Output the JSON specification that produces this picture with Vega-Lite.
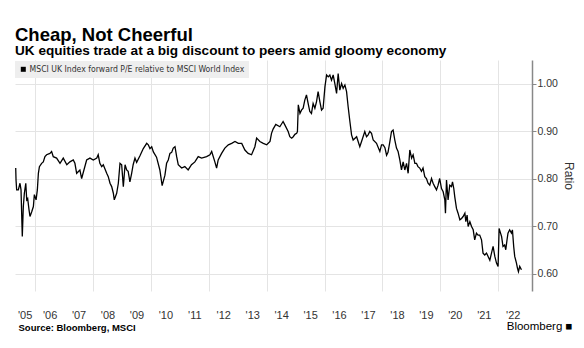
{
  "$schema": "https://vega.github.io/schema/vega-lite/v6.json",
  "width": 517,
  "height": 231,
  "autosize": "none",
  "padding": {"left": 15, "top": 60, "right": 52, "bottom": 57},
  "background": "white",
  "title": {
    "text": "Cheap, Not Cheerful",
    "subtitle": "UK equities trade at a big discount to peers amid gloomy economy",
    "anchor": "start",
    "frame": "group",
    "font": "Liberation Sans",
    "fontSize": 18.5,
    "fontWeight": "bold",
    "color": "#000000",
    "subtitleFont": "Liberation Sans",
    "subtitleFontSize": 13.6,
    "subtitleFontWeight": "bold",
    "subtitleColor": "#000000",
    "subtitlePadding": 0,
    "offset": 2
  },
  "config": {
    "view": {"stroke": null},
    "axis": {"labelFont": "Liberation Sans", "titleFont": "Liberation Sans"}
  },
  "data": {
    "values": [
      {"date": "2005-05-01", "ratio": 0.823}, {"date": "2005-05-05", "ratio": 0.798}, {"date": "2005-05-13", "ratio": 0.777},
      {"date": "2005-06-03", "ratio": 0.777}, {"date": "2005-06-24", "ratio": 0.791}, {"date": "2005-07-07", "ratio": 0.777},
      {"date": "2005-07-23", "ratio": 0.679}, {"date": "2005-08-05", "ratio": 0.742}, {"date": "2005-08-18", "ratio": 0.770},
      {"date": "2005-09-05", "ratio": 0.791}, {"date": "2005-09-17", "ratio": 0.756}, {"date": "2005-09-29", "ratio": 0.759},
      {"date": "2005-10-16", "ratio": 0.735}, {"date": "2005-10-28", "ratio": 0.721}, {"date": "2005-11-19", "ratio": 0.731},
      {"date": "2005-12-10", "ratio": 0.742}, {"date": "2005-12-22", "ratio": 0.767}, {"date": "2006-01-13", "ratio": 0.756},
      {"date": "2006-01-29", "ratio": 0.777}, {"date": "2006-02-11", "ratio": 0.812}, {"date": "2006-02-24", "ratio": 0.826},
      {"date": "2006-03-24", "ratio": 0.833}, {"date": "2006-04-14", "ratio": 0.836}, {"date": "2006-05-05", "ratio": 0.847},
      {"date": "2006-05-26", "ratio": 0.851}, {"date": "2006-07-07", "ratio": 0.854}, {"date": "2006-07-28", "ratio": 0.858},
      {"date": "2006-08-18", "ratio": 0.847}, {"date": "2006-09-29", "ratio": 0.844}, {"date": "2006-11-11", "ratio": 0.833},
      {"date": "2006-12-22", "ratio": 0.844}, {"date": "2007-02-05", "ratio": 0.830}, {"date": "2007-03-16", "ratio": 0.836},
      {"date": "2007-04-27", "ratio": 0.840}, {"date": "2007-05-18", "ratio": 0.833}, {"date": "2007-06-09", "ratio": 0.812},
      {"date": "2007-07-20", "ratio": 0.819}, {"date": "2007-08-11", "ratio": 0.801}, {"date": "2007-10-13", "ratio": 0.840},
      {"date": "2007-11-24", "ratio": 0.844}, {"date": "2008-01-05", "ratio": 0.840}, {"date": "2008-02-18", "ratio": 0.844},
      {"date": "2008-03-07", "ratio": 0.851}, {"date": "2008-03-28", "ratio": 0.833}, {"date": "2008-04-20", "ratio": 0.826},
      {"date": "2008-05-10", "ratio": 0.830}, {"date": "2008-06-22", "ratio": 0.812}, {"date": "2008-07-12", "ratio": 0.805},
      {"date": "2008-08-03", "ratio": 0.791}, {"date": "2008-08-24", "ratio": 0.784}, {"date": "2008-09-14", "ratio": 0.770},
      {"date": "2008-09-26", "ratio": 0.756}, {"date": "2008-10-26", "ratio": 0.770}, {"date": "2008-11-16", "ratio": 0.791},
      {"date": "2008-12-07", "ratio": 0.833}, {"date": "2008-12-28", "ratio": 0.830}, {"date": "2009-01-18", "ratio": 0.784},
      {"date": "2009-02-09", "ratio": 0.830}, {"date": "2009-03-01", "ratio": 0.819}, {"date": "2009-03-20", "ratio": 0.816},
      {"date": "2009-04-11", "ratio": 0.794}, {"date": "2009-05-03", "ratio": 0.812}, {"date": "2009-05-22", "ratio": 0.830},
      {"date": "2009-06-14", "ratio": 0.844}, {"date": "2009-07-05", "ratio": 0.835}, {"date": "2009-08-16", "ratio": 0.849},
      {"date": "2009-09-27", "ratio": 0.864}, {"date": "2009-11-09", "ratio": 0.875}, {"date": "2009-11-29", "ratio": 0.872},
      {"date": "2009-12-20", "ratio": 0.864}, {"date": "2010-01-11", "ratio": 0.868}, {"date": "2010-02-01", "ratio": 0.857},
      {"date": "2010-03-13", "ratio": 0.846}, {"date": "2010-04-24", "ratio": 0.819}, {"date": "2010-05-23", "ratio": 0.786},
      {"date": "2010-06-27", "ratio": 0.808}, {"date": "2010-07-18", "ratio": 0.833}, {"date": "2010-08-08", "ratio": 0.840},
      {"date": "2010-08-29", "ratio": 0.854}, {"date": "2010-09-20", "ratio": 0.856}, {"date": "2010-10-10", "ratio": 0.865},
      {"date": "2010-11-01", "ratio": 0.868}, {"date": "2010-11-22", "ratio": 0.847}, {"date": "2010-12-12", "ratio": 0.830},
      {"date": "2011-01-24", "ratio": 0.823}, {"date": "2011-03-05", "ratio": 0.826}, {"date": "2011-04-16", "ratio": 0.819},
      {"date": "2011-05-28", "ratio": 0.830}, {"date": "2011-07-10", "ratio": 0.836}, {"date": "2011-08-21", "ratio": 0.847},
      {"date": "2011-10-03", "ratio": 0.844}, {"date": "2011-12-05", "ratio": 0.847}, {"date": "2012-01-16", "ratio": 0.851},
      {"date": "2012-02-07", "ratio": 0.858}, {"date": "2012-03-18", "ratio": 0.836}, {"date": "2012-04-09", "ratio": 0.823},
      {"date": "2012-04-29", "ratio": 0.840}, {"date": "2012-06-11", "ratio": 0.854}, {"date": "2012-07-22", "ratio": 0.865},
      {"date": "2012-09-04", "ratio": 0.872}, {"date": "2012-10-16", "ratio": 0.875}, {"date": "2012-11-27", "ratio": 0.879},
      {"date": "2013-01-08", "ratio": 0.875}, {"date": "2013-02-20", "ratio": 0.875}, {"date": "2013-04-01", "ratio": 0.861},
      {"date": "2013-05-12", "ratio": 0.854}, {"date": "2013-06-24", "ratio": 0.851}, {"date": "2013-08-05", "ratio": 0.868},
      {"date": "2013-08-27", "ratio": 0.886}, {"date": "2013-10-07", "ratio": 0.879}, {"date": "2013-11-19", "ratio": 0.875},
      {"date": "2014-01-01", "ratio": 0.872}, {"date": "2014-02-12", "ratio": 0.879}, {"date": "2014-03-03", "ratio": 0.896},
      {"date": "2014-03-23", "ratio": 0.905}, {"date": "2014-04-26", "ratio": 0.915}, {"date": "2014-06-16", "ratio": 0.910},
      {"date": "2014-07-27", "ratio": 0.921}, {"date": "2014-08-18", "ratio": 0.914}, {"date": "2014-09-29", "ratio": 0.900},
      {"date": "2014-10-20", "ratio": 0.889}, {"date": "2014-11-12", "ratio": 0.886}, {"date": "2014-12-02", "ratio": 0.889},
      {"date": "2014-12-23", "ratio": 0.894}, {"date": "2015-01-14", "ratio": 0.896}, {"date": "2015-01-24", "ratio": 0.900},
      {"date": "2015-02-04", "ratio": 0.956}, {"date": "2015-02-25", "ratio": 0.938}, {"date": "2015-03-16", "ratio": 0.945},
      {"date": "2015-04-06", "ratio": 0.949}, {"date": "2015-04-27", "ratio": 0.966}, {"date": "2015-05-18", "ratio": 0.977},
      {"date": "2015-06-08", "ratio": 0.959}, {"date": "2015-06-29", "ratio": 0.942}, {"date": "2015-07-20", "ratio": 0.938},
      {"date": "2015-08-10", "ratio": 0.959}, {"date": "2015-09-01", "ratio": 0.949}, {"date": "2015-09-22", "ratio": 0.963},
      {"date": "2015-10-12", "ratio": 0.984}, {"date": "2015-11-03", "ratio": 0.963}, {"date": "2015-11-24", "ratio": 0.945},
      {"date": "2015-12-14", "ratio": 0.949}, {"date": "2016-01-06", "ratio": 0.994}, {"date": "2016-01-27", "ratio": 1.019},
      {"date": "2016-02-17", "ratio": 1.015}, {"date": "2016-03-08", "ratio": 1.019}, {"date": "2016-03-29", "ratio": 1.008},
      {"date": "2016-04-19", "ratio": 1.019}, {"date": "2016-05-10", "ratio": 1.001}, {"date": "2016-06-01", "ratio": 0.980},
      {"date": "2016-06-21", "ratio": 1.022}, {"date": "2016-07-12", "ratio": 0.987}, {"date": "2016-08-03", "ratio": 1.001},
      {"date": "2016-08-23", "ratio": 0.991}, {"date": "2016-09-14", "ratio": 0.998}, {"date": "2016-10-05", "ratio": 0.984},
      {"date": "2016-10-25", "ratio": 0.952}, {"date": "2016-11-16", "ratio": 0.921}, {"date": "2016-12-07", "ratio": 0.893},
      {"date": "2016-12-27", "ratio": 0.882}, {"date": "2017-02-09", "ratio": 0.889}, {"date": "2017-03-21", "ratio": 0.868},
      {"date": "2017-04-12", "ratio": 0.879}, {"date": "2017-05-23", "ratio": 0.900}, {"date": "2017-06-14", "ratio": 0.889},
      {"date": "2017-07-04", "ratio": 0.893}, {"date": "2017-07-25", "ratio": 0.900}, {"date": "2017-08-16", "ratio": 0.896},
      {"date": "2017-09-06", "ratio": 0.882}, {"date": "2017-10-18", "ratio": 0.875}, {"date": "2017-11-29", "ratio": 0.858},
      {"date": "2017-12-20", "ratio": 0.872}, {"date": "2018-01-10", "ratio": 0.872}, {"date": "2018-02-01", "ratio": 0.866},
      {"date": "2018-02-22", "ratio": 0.850}, {"date": "2018-03-12", "ratio": 0.856}, {"date": "2018-04-04", "ratio": 0.878},
      {"date": "2018-04-25", "ratio": 0.900}, {"date": "2018-05-15", "ratio": 0.903}, {"date": "2018-06-06", "ratio": 0.882},
      {"date": "2018-06-27", "ratio": 0.865}, {"date": "2018-07-17", "ratio": 0.858}, {"date": "2018-08-08", "ratio": 0.840},
      {"date": "2018-08-29", "ratio": 0.819}, {"date": "2018-09-19", "ratio": 0.836}, {"date": "2018-10-10", "ratio": 0.819},
      {"date": "2018-11-01", "ratio": 0.833}, {"date": "2018-11-21", "ratio": 0.812}, {"date": "2018-12-12", "ratio": 0.861},
      {"date": "2019-01-04", "ratio": 0.844}, {"date": "2019-01-23", "ratio": 0.851}, {"date": "2019-02-14", "ratio": 0.833},
      {"date": "2019-03-06", "ratio": 0.833}, {"date": "2019-03-25", "ratio": 0.826}, {"date": "2019-04-16", "ratio": 0.823},
      {"date": "2019-05-08", "ratio": 0.816}, {"date": "2019-05-28", "ratio": 0.823}, {"date": "2019-06-19", "ratio": 0.805},
      {"date": "2019-07-10", "ratio": 0.801}, {"date": "2019-07-30", "ratio": 0.791}, {"date": "2019-08-21", "ratio": 0.787},
      {"date": "2019-09-12", "ratio": 0.801}, {"date": "2019-10-02", "ratio": 0.791}, {"date": "2019-10-23", "ratio": 0.784},
      {"date": "2019-11-14", "ratio": 0.777}, {"date": "2019-12-04", "ratio": 0.787}, {"date": "2019-12-24", "ratio": 0.801},
      {"date": "2020-01-16", "ratio": 0.780}, {"date": "2020-02-06", "ratio": 0.773}, {"date": "2020-02-27", "ratio": 0.756},
      {"date": "2020-03-06", "ratio": 0.728}, {"date": "2020-03-19", "ratio": 0.798}, {"date": "2020-04-08", "ratio": 0.756},
      {"date": "2020-04-29", "ratio": 0.787}, {"date": "2020-05-21", "ratio": 0.784}, {"date": "2020-06-03", "ratio": 0.794},
      {"date": "2020-06-19", "ratio": 0.780}, {"date": "2020-07-01", "ratio": 0.763}, {"date": "2020-07-23", "ratio": 0.738},
      {"date": "2020-08-12", "ratio": 0.728}, {"date": "2020-09-04", "ratio": 0.714}, {"date": "2020-09-25", "ratio": 0.717},
      {"date": "2020-10-15", "ratio": 0.721}, {"date": "2020-11-06", "ratio": 0.728}, {"date": "2020-11-18", "ratio": 0.710},
      {"date": "2020-12-04", "ratio": 0.724}, {"date": "2020-12-17", "ratio": 0.700}, {"date": "2021-01-08", "ratio": 0.710},
      {"date": "2021-01-29", "ratio": 0.700}, {"date": "2021-02-19", "ratio": 0.693}, {"date": "2021-03-10", "ratio": 0.672},
      {"date": "2021-04-01", "ratio": 0.686}, {"date": "2021-04-21", "ratio": 0.682}, {"date": "2021-05-12", "ratio": 0.682},
      {"date": "2021-06-04", "ratio": 0.672}, {"date": "2021-06-23", "ratio": 0.644}, {"date": "2021-07-15", "ratio": 0.640},
      {"date": "2021-08-06", "ratio": 0.644}, {"date": "2021-08-26", "ratio": 0.637}, {"date": "2021-09-17", "ratio": 0.629},
      {"date": "2021-10-08", "ratio": 0.644}, {"date": "2021-10-28", "ratio": 0.658}, {"date": "2021-11-19", "ratio": 0.637},
      {"date": "2021-12-10", "ratio": 0.623}, {"date": "2021-12-30", "ratio": 0.616}, {"date": "2022-01-12", "ratio": 0.696},
      {"date": "2022-01-30", "ratio": 0.686}, {"date": "2022-02-12", "ratio": 0.679}, {"date": "2022-03-02", "ratio": 0.658},
      {"date": "2022-03-23", "ratio": 0.661}, {"date": "2022-04-06", "ratio": 0.651}, {"date": "2022-04-22", "ratio": 0.672},
      {"date": "2022-05-04", "ratio": 0.686}, {"date": "2022-05-25", "ratio": 0.693}, {"date": "2022-06-16", "ratio": 0.686},
      {"date": "2022-06-29", "ratio": 0.693}, {"date": "2022-07-15", "ratio": 0.658}, {"date": "2022-07-28", "ratio": 0.637},
      {"date": "2022-08-19", "ratio": 0.623}, {"date": "2022-09-01", "ratio": 0.612}, {"date": "2022-09-13", "ratio": 0.605},
      {"date": "2022-09-29", "ratio": 0.616}, {"date": "2022-10-21", "ratio": 0.609}
    ]
  },
  "layer": [
    {
      "mark": {"type": "line", "color": "#000000", "strokeWidth": 1.3},
      "encoding": {
        "x": {
          "field": "date",
          "type": "temporal",
          "scale": {"domain": [{"year": 2005, "month": 4, "date": 22}, {"year": 2023, "month": 3, "date": 3}]},
          "axis": {
            "orient": "bottom",
            "values": [
              {"year": 2005, "month": 4, "date": 23}, {"year": 2006, "month": 1, "date": 1}, {"year": 2007, "month": 1, "date": 1},
              {"year": 2008, "month": 1, "date": 1}, {"year": 2009, "month": 1, "date": 1}, {"year": 2010, "month": 1, "date": 1},
              {"year": 2011, "month": 1, "date": 1}, {"year": 2012, "month": 1, "date": 1}, {"year": 2013, "month": 1, "date": 1},
              {"year": 2014, "month": 1, "date": 1}, {"year": 2015, "month": 1, "date": 1}, {"year": 2016, "month": 1, "date": 1},
              {"year": 2017, "month": 1, "date": 1}, {"year": 2018, "month": 1, "date": 1}, {"year": 2019, "month": 1, "date": 1},
              {"year": 2020, "month": 1, "date": 1}, {"year": 2021, "month": 1, "date": 1}, {"year": 2022, "month": 1, "date": 1}
            ],
            "format": "'%y",
            "grid": true,
            "gridColor": "#e4e4e4",
            "gridWidth": 1,
            "gridOpacity": {"condition": {"test": "year(datum.value) % 2 == 0", "value": 1}, "value": 0},
            "ticks": false,
            "domain": false,
            "labelFlush": false,
            "labelOverlap": false,
            "labelOffset": {"condition": {"test": "year(datum.value) == 2005", "value": 9.6}, "value": 14.5},
            "labelPadding": 18,
            "labelFontSize": 11,
            "labelColor": "#333333",
            "title": "Source: Bloomberg, MSCI",
            "titleAnchor": "start",
            "titleAlign": "left",
            "titleBaseline": "alphabetic",
            "titleX": 3,
            "titleY": 39.5,
            "titleFontSize": 9.5,
            "titleFontWeight": "bold",
            "titleColor": "#000000"
          }
        },
        "y": {
          "field": "ratio",
          "type": "quantitative",
          "scale": {"domain": [0.5642, 1.0505], "nice": false, "zero": false},
          "axis": {
            "orient": "right",
            "values": [0.6, 0.65, 0.7, 0.75, 0.8, 0.85, 0.9, 0.95, 1.0],
            "labelExpr": "abs(datum.value * 10 - round(datum.value * 10)) < 0.001 ? format(datum.value, '.2f') : ''",
            "grid": true,
            "gridColor": "#e4e4e4",
            "gridOpacity": {"condition": {"test": "abs(datum.value * 10 - round(datum.value * 10)) < 0.001", "value": 1}, "value": 0},
            "tickSize": {"condition": {"test": "abs(datum.value * 10 - round(datum.value * 10)) < 0.001", "value": 4}, "value": 3},
            "tickColor": "#888888",
            "domainColor": "#888888",
            "domainWidth": 1.5,
            "labelPadding": 1,
            "labelFontSize": 10.5,
            "labelColor": "#333333",
            "title": "Ratio",
            "titleFontSize": 12,
            "titleFontWeight": "normal",
            "titleColor": "#333333",
            "titlePadding": 4
          }
        },
        "color": {
          "datum": "MSCI UK Index forward P/E relative to MSCI World Index",
          "scale": {"range": ["#000000"]},
          "legend": {
            "orient": "none",
            "legendX": 0,
            "legendY": 1,
            "title": null,
            "fillColor": "#eeeeee",
            "padding": 4,
            "symbolType": "square",
            "symbolSize": 25,
            "symbolFillColor": "#000000",
            "symbolStrokeColor": "#000000",
            "symbolStrokeWidth": 0,
            "labelFont": "'Liberation Sans Narrow', 'DejaVu Sans Condensed', sans-serif",
            "labelFontSize": 8.6,
            "labelColor": "#333333",
            "labelLimit": 400,
            "labelOffset": 2
          }
        }
      }
    },
    {
      "mark": {"type": "line", "opacity": 0},
      "encoding": {
        "x": {
          "field": "date",
          "type": "temporal",
          "axis": {
            "orient": "bottom",
            "values": [],
            "grid": false,
            "ticks": false,
            "domain": false,
            "labels": false,
            "title": "Bloomberg ■",
            "titleAnchor": "end",
            "titleAlign": "right",
            "titleBaseline": "alphabetic",
            "titleX": 557,
            "titleY": 38,
            "titleFontSize": 11.5,
            "titleFontWeight": "normal",
            "titleColor": "#000000"
          }
        },
        "y": {"field": "ratio", "type": "quantitative"}
      }
    }
  ],
  "resolve": {"axis": {"x": "independent"}}
}
